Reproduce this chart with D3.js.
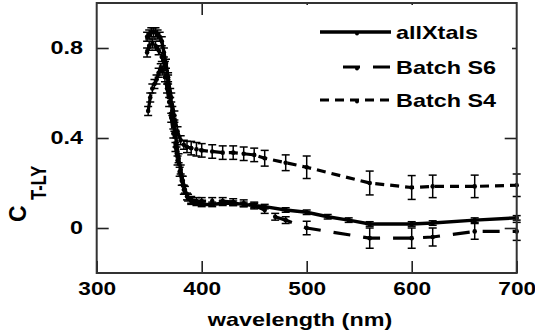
<!DOCTYPE html>
<html>
<head>
<meta charset="utf-8">
<script src="https://cdn.jsdelivr.net/npm/d3@7"></script>
<style>
  body { margin: 0; background: #fff; }
  text { font-family: "Liberation Sans", Arial, sans-serif; font-weight: bold; }
</style>
</head>
<body>
<div id="plot"></div>
<script>
// data
const xTicks = [300, 400, 500, 600, 700];
const yTicks = [0, 0.4, 0.8];

const allWl  = [348, 350, 352, 354, 356, 358, 360, 362, 364, 366, 368, 370, 372, 374, 376, 378, 380, 382, 384, 387, 390, 395, 400, 410, 420, 430, 440, 450, 460, 480, 500, 520, 540, 560, 600, 620, 660, 700];
const allVal = [0.85, 0.86, 0.87, 0.87, 0.87, 0.86, 0.85, 0.83, 0.78, 0.73, 0.67, 0.60, 0.52, 0.45, 0.38, 0.31, 0.26, 0.21, 0.17, 0.135, 0.12, 0.11, 0.105, 0.105, 0.11, 0.11, 0.105, 0.10, 0.095, 0.08, 0.07, 0.05, 0.035, 0.018, 0.018, 0.022, 0.035, 0.045];
const allErr = [0.02, 0.02, 0.02, 0.02, 0.02, 0.02, 0.02, 0.02, 0.02, 0.02, 0.02, 0.02, 0.02, 0.02, 0.02, 0.02, 0.02, 0.02, 0.015, 0.015, 0.015, 0.01, 0.01, 0.01, 0.01, 0.01, 0.01, 0.01, 0.01, 0.01, 0.01, 0.01, 0.01, 0.01, 0.01, 0.01, 0.01, 0.01];

const s6Wl  = [349, 351, 353, 355, 357, 359, 361, 363, 365, 367, 369, 371, 373, 375, 377, 379, 381, 383, 386, 390, 395, 400, 410, 420, 430, 440, 450, 460, 470, 480, 500, 560, 600, 620, 660, 700];
const s6Val = [0.52, 0.58, 0.62, 0.64, 0.66, 0.69, 0.71, 0.70, 0.67, 0.62, 0.56, 0.49, 0.42, 0.36, 0.30, 0.25, 0.21, 0.17, 0.14, 0.125, 0.12, 0.12, 0.12, 0.12, 0.115, 0.11, 0.10, 0.08, 0.05, 0.035, 0.0, -0.045, -0.045, -0.04, -0.015, -0.015];
const s6Err = [0.02, 0.02, 0.02, 0.02, 0.02, 0.02, 0.02, 0.02, 0.02, 0.02, 0.02, 0.02, 0.02, 0.02, 0.02, 0.02, 0.02, 0.02, 0.015, 0.015, 0.015, 0.015, 0.015, 0.015, 0.015, 0.015, 0.015, 0.015, 0.015, 0.015, 0.03, 0.045, 0.045, 0.04, 0.035, 0.04];

const s4Wl  = [348, 350, 353, 356, 359, 362, 365, 368, 371, 374, 377, 380, 383, 386, 390, 395, 400, 410, 420, 430, 440, 450, 460, 480, 500, 560, 600, 620, 660, 700];
const s4Val = [0.78, 0.81, 0.82, 0.81, 0.79, 0.76, 0.72, 0.66, 0.58, 0.50, 0.43, 0.39, 0.37, 0.36, 0.355, 0.35, 0.345, 0.34, 0.335, 0.335, 0.33, 0.325, 0.31, 0.29, 0.27, 0.20, 0.18, 0.185, 0.185, 0.19];
const s4Err = [0.02, 0.02, 0.02, 0.02, 0.02, 0.02, 0.02, 0.02, 0.02, 0.02, 0.02, 0.02, 0.02, 0.025, 0.03, 0.03, 0.03, 0.03, 0.03, 0.03, 0.03, 0.03, 0.035, 0.035, 0.05, 0.053, 0.053, 0.05, 0.05, 0.05];

const seriesNames = ["allXtals", "Batch S6", "Batch S4"];

function zip(wl, val, err) {
  return wl.map((w, i) => ({ w: w, v: val[i], e: err[i] }));
}
const series = [
  { name: seriesNames[0], pts: zip(allWl, allVal, allErr), dash: null, width: 3.5 },
  { name: seriesNames[1], pts: zip(s6Wl, s6Val, s6Err), dash: "17,13", width: 3.2 },
  { name: seriesNames[2], pts: zip(s4Wl, s4Val, s4Err), dash: "9,6", width: 3.2 }
];

const W = 535, H = 334;
const plotL = 96.7, plotR = 516.7, plotT = 3, plotB = 273;
const stretch = "scale(1.3,1)";

const svg = d3.select("div#plot")
              .append("svg")
              .attr("width", W)
              .attr("height", H);

const x = d3.scaleLinear().domain([300, 700]).range([plotL, plotR]);
const y = d3.scaleLinear().domain([-0.2, 1.0]).range([plotB, plotT]);

// axes, ticks pointing inward
svg.append("g")
   .attr("transform", "translate(0," + plotB + ")")
   .call(d3.axisBottom(x).tickValues(xTicks).tickSizeInner(-12).tickSizeOuter(0).tickPadding(9))
   .call(g => g.select(".domain").remove())
   .call(g => g.selectAll("text").attr("transform", "scale(1.26,1)").attr("font-size", "18px").attr("fill", "#000"));

svg.append("g")
   .attr("transform", "translate(" + plotL + ",0)")
   .call(d3.axisLeft(y).tickValues(yTicks).tickFormat(d3.format("~g")).tickSizeInner(-12).tickSizeOuter(0).tickPadding(10.5))
   .call(g => g.select(".domain").remove())
   .call(g => g.selectAll("text").attr("transform", stretch).attr("font-size", "18px").attr("fill", "#000"));

svg.append("g")
   .attr("transform", "translate(0," + plotT + ")")
   .call(d3.axisTop(x).tickValues([400, 500, 600]).tickFormat("").tickSizeInner(-12).tickSizeOuter(0))
   .call(g => g.select(".domain").remove());

svg.append("g")
   .attr("transform", "translate(" + plotR + ",0)")
   .call(d3.axisRight(y).tickValues(yTicks).tickFormat("").tickSizeInner(-12).tickSizeOuter(0))
   .call(g => g.select(".domain").remove());

svg.selectAll(".tick line").attr("stroke", "#222").attr("stroke-width", 1.6);

// data
const line = d3.line().x(d => x(d.w)).y(d => y(d.v));

series.forEach(s => {
  const g = svg.append("g");
  g.append("path")
   .datum(s.pts)
   .attr("d", line)
   .attr("fill", "none")
   .attr("stroke", "#000")
   .attr("stroke-width", s.width)
   .attr("stroke-dasharray", s.dash);
  const eb = g.selectAll("g.err")
              .data(s.pts)
              .enter()
              .append("g");
  eb.append("line")
    .attr("x1", d => x(d.w)).attr("x2", d => x(d.w))
    .attr("y1", d => y(d.v - d.e)).attr("y2", d => y(d.v + d.e))
    .attr("stroke", "#000").attr("stroke-width", 1.5);
  eb.append("line")
    .attr("x1", d => x(d.w) - 4).attr("x2", d => x(d.w) + 4)
    .attr("y1", d => y(d.v - d.e)).attr("y2", d => y(d.v - d.e))
    .attr("stroke", "#000").attr("stroke-width", 1.5);
  eb.append("line")
    .attr("x1", d => x(d.w) - 4).attr("x2", d => x(d.w) + 4)
    .attr("y1", d => y(d.v + d.e)).attr("y2", d => y(d.v + d.e))
    .attr("stroke", "#000").attr("stroke-width", 1.5);
  eb.append("circle")
    .attr("cx", d => x(d.w)).attr("cy", d => y(d.v))
    .attr("r", 2.3).attr("fill", "#000");
});

// legend
svg.append("rect")
   .attr("x", 295).attr("y", 5)
   .attr("width", 217).attr("height", 110)
   .attr("fill", "#fff");

const legendY = [32, 67, 100];
const legendX0 = [320, 343, 320];
series.forEach((s, i) => {
  svg.append("line")
     .attr("x1", legendX0[i]).attr("x2", 391)
     .attr("y1", legendY[i]).attr("y2", legendY[i])
     .attr("stroke", "#000").attr("stroke-width", s.width)
     .attr("stroke-dasharray", s.dash);
  svg.append("circle")
     .attr("cx", 357).attr("cy", legendY[i] + 1.5)
     .attr("r", 2).attr("fill", "#000");
  svg.append("text")
     .attr("transform", "translate(396," + (legendY[i] + 6.5) + ") " + stretch)
     .attr("font-size", "18px")
     .text(s.name);
});

// frame
svg.append("rect")
   .attr("x", plotL).attr("y", plotT)
   .attr("width", plotR - plotL).attr("height", plotB - plotT)
   .attr("fill", "none").attr("stroke", "#333").attr("stroke-width", 2);

// axis titles
svg.append("text")
   .attr("transform", "translate(300,326) " + stretch)
   .attr("text-anchor", "middle")
   .attr("font-size", "18px")
   .text("wavelength (nm)");

// C with subscript T-LY, rotated
svg.append("text")
   .attr("transform", "translate(26,222) rotate(-90)")
   .attr("font-size", "23px")
   .text("C");
svg.append("text")
   .attr("transform", "translate(46,200) scale(1.3,1) rotate(-90)")
   .attr("font-size", "16.5px")
   .text("T-LY");
</script>
</body>
</html>
